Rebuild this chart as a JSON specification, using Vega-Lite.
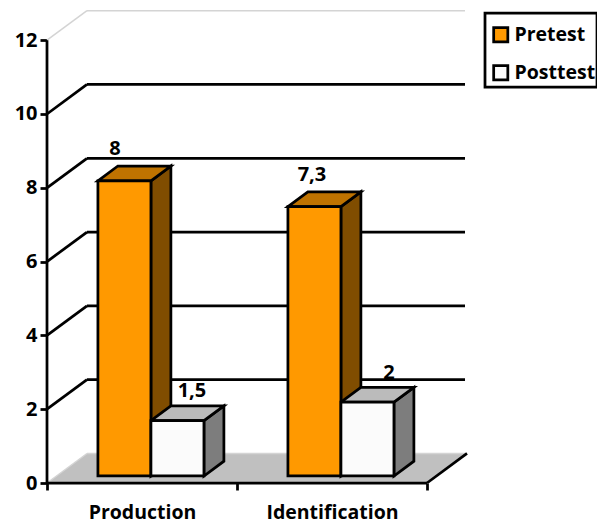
{
  "$schema": "https://vega.github.io/schema/vega-lite/v6.json",
  "autosize": {"type": "none"},
  "padding": {"left": 47, "top": 10, "right": 130, "bottom": 41},
  "width": 420,
  "height": 473,
  "background": "white",
  "view": {"stroke": null},
  "config": {
    "legend": {"strokeColor": "black", "strokeWidth": 2.75}
  },
  "resolve": {"axis": {"x": "independent", "y": "independent"}},
  "datasets": {
    "scores": [
      {"category": "Production", "series": "Pretest", "value": 8},
      {"category": "Production", "series": "Posttest", "value": 1.5},
      {"category": "Identification", "series": "Pretest", "value": 7.3},
      {"category": "Identification", "series": "Posttest", "value": 2}
    ],
    "levels": [
      {"level": 0}, {"level": 2}, {"level": 4}, {"level": 6},
      {"level": 8}, {"level": 10}, {"level": 12}
    ],
    "floor": [{"name": "floor"}]
  },
  "layer": [
    {
      "description": "Floor of the 3D box",
      "data": {"name": "floor"},
      "transform": [
        {"calculate": "[0, 1]", "as": "p"},
        {"flatten": ["p"]},
        {"calculate": "datum.p * 0.2105", "as": "x0"},
        {"calculate": "2 + datum.p * 0.2105", "as": "x1"},
        {"calculate": "datum.p * 0.8", "as": "yy"}
      ],
      "mark": {"type": "area", "orient": "horizontal", "fill": "#c0c0c0", "stroke": null},
      "encoding": {
        "x": {
          "field": "x0", "type": "quantitative",
          "scale": {"domain": [0, 2.2105], "nice": false, "zero": false},
          "axis": {
            "title": null, "grid": false, "domain": false,
            "values": [0, 0.5, 1, 1.5, 2],
            "labelExpr": "datum.value === 0.5 ? 'Production' : datum.value === 1.5 ? 'Identification' : ''",
            "tickOpacity": {"condition": {"test": "datum.value === 0.5 || datum.value === 1.5", "value": 0}, "value": 1},
            "tickColor": "black", "tickWidth": 2.75, "tickSize": 7,
            "labelFont": "Open Sans", "labelFontWeight": "bold", "labelFontSize": 19.5,
            "labelColor": "black", "labelPadding": 13, "labelAngle": 0, "labelFlush": false, "labelOverlap": false
          }
        },
        "x2": {"field": "x1"},
        "y": {
          "field": "yy", "type": "quantitative", "stack": null,
          "scale": {"domain": [0, 12.818], "nice": false, "zero": false},
          "axis": {
            "title": null, "grid": false, "domain": false,
            "values": [0, 2, 4, 6, 8, 10, 12],
            "tickColor": "black", "tickWidth": 2.75, "tickSize": 7,
            "labelFont": "Open Sans", "labelFontWeight": "bold", "labelFontSize": 20,
            "labelColor": "black", "labelPadding": 3
          }
        }
      }
    },
    {
      "description": "Diagonals on the left wall",
      "data": {"name": "levels"},
      "transform": [
        {"calculate": "datum.level + 0.8", "as": "back"},
        {"calculate": "datum.level === 0 || datum.level === 12", "as": "faint"}
      ],
      "mark": {"type": "rule"},
      "encoding": {
        "x": {"datum": 0, "type": "quantitative", "axis": null},
        "x2": {"datum": 0.2105},
        "y": {"field": "level", "type": "quantitative", "axis": null},
        "y2": {"field": "back"},
        "stroke": {"condition": {"test": "datum.faint", "value": "#d4d4d4"}, "value": "black"},
        "strokeWidth": {"condition": {"test": "datum.faint", "value": 1.5}, "value": 2.75}
      }
    },
    {
      "description": "Gridlines on the back wall",
      "data": {"name": "levels"},
      "transform": [
        {"calculate": "datum.level + 0.8", "as": "back"},
        {"calculate": "datum.level === 0 || datum.level === 12", "as": "faint"}
      ],
      "mark": {"type": "rule"},
      "encoding": {
        "x": {"datum": 0.2105, "type": "quantitative", "axis": null},
        "x2": {"datum": 2.2},
        "y": {"field": "back", "type": "quantitative", "axis": null},
        "stroke": {"condition": {"test": "datum.faint", "value": "#d4d4d4"}, "value": "black"},
        "strokeWidth": {"condition": {"test": "datum.faint", "value": 1.5}, "value": 2.75}
      }
    },
    {
      "description": "Front edge of the floor",
      "data": {"name": "floor"},
      "mark": {"type": "rule", "stroke": "black", "strokeWidth": 2.75},
      "encoding": {
        "x": {"datum": 0, "type": "quantitative", "axis": null},
        "x2": {"datum": 2},
        "y": {"datum": 0, "type": "quantitative", "axis": null}
      }
    },
    {
      "description": "Right edge of the floor",
      "data": {"name": "floor"},
      "mark": {"type": "rule", "stroke": "black", "strokeWidth": 2.75},
      "encoding": {
        "x": {"datum": 2, "type": "quantitative", "axis": null},
        "x2": {"datum": 2.2105},
        "y": {"datum": 0, "type": "quantitative", "axis": null},
        "y2": {"datum": 0.8}
      }
    },
    {
      "description": "Value axis line",
      "data": {"name": "floor"},
      "mark": {"type": "rule", "stroke": "black", "strokeWidth": 2.75},
      "encoding": {
        "x": {"datum": 0, "type": "quantitative", "axis": null},
        "y": {"datum": 0, "type": "quantitative", "axis": null},
        "y2": {"datum": 12}
      }
    },
    {
      "description": "Right-hand faces of the bars",
      "data": {"name": "scores"},
      "transform": [
        {"calculate": "(datum.category === 'Production' ? 0 : 1) + 0.268 + (datum.series === 'Pretest' ? 0 : 0.279)", "as": "left"},
        {"calculate": "[0, 1]", "as": "p"},
        {"flatten": ["p"]},
        {"calculate": "datum.left + 0.279 + datum.p * 0.105", "as": "xx"},
        {"calculate": "0.19 + datum.p * 0.4", "as": "low"},
        {"calculate": "datum.low + datum.value", "as": "high"},
        {"calculate": "datum.category + datum.series", "as": "bar"}
      ],
      "mark": {"type": "area", "stroke": "black", "strokeWidth": 2.75, "strokeJoin": "miter"},
      "encoding": {
        "detail": {"field": "bar"},
        "x": {"field": "xx", "type": "quantitative", "axis": null},
        "y": {"field": "high", "type": "quantitative", "stack": null, "axis": null},
        "y2": {"field": "low"},
        "fill": {"condition": {"test": "datum.series === 'Pretest'", "value": "#804d00"}, "value": "#7d7d7d"}
      }
    },
    {
      "description": "Top faces of the bars",
      "data": {"name": "scores"},
      "transform": [
        {"calculate": "(datum.category === 'Production' ? 0 : 1) + 0.268 + (datum.series === 'Pretest' ? 0 : 0.279)", "as": "left"},
        {"calculate": "[0, 1]", "as": "p"},
        {"flatten": ["p"]},
        {"calculate": "datum.left + datum.p * 0.105", "as": "xa"},
        {"calculate": "datum.xa + 0.279", "as": "xb"},
        {"calculate": "0.19 + datum.value + datum.p * 0.4", "as": "yy"},
        {"calculate": "datum.category + datum.series", "as": "bar"}
      ],
      "mark": {"type": "area", "orient": "horizontal", "stroke": "black", "strokeWidth": 2.75, "strokeJoin": "miter"},
      "encoding": {
        "detail": {"field": "bar"},
        "x": {"field": "xa", "type": "quantitative", "stack": null, "axis": null},
        "x2": {"field": "xb"},
        "y": {"field": "yy", "type": "quantitative", "axis": null},
        "fill": {"condition": {"test": "datum.series === 'Pretest'", "value": "#bf7300"}, "value": "#bbbbbb"}
      }
    },
    {
      "description": "Front faces of the bars, which carry the legend",
      "data": {"name": "scores"},
      "transform": [
        {"calculate": "(datum.category === 'Production' ? 0 : 1) + 0.268 + (datum.series === 'Pretest' ? 0 : 0.279)", "as": "left"},
        {"calculate": "datum.left + 0.279", "as": "right"},
        {"calculate": "0.19", "as": "base"},
        {"calculate": "datum.base + datum.value", "as": "top"}
      ],
      "mark": {"type": "rect", "stroke": "black", "strokeWidth": 2.75},
      "encoding": {
        "x": {"field": "left", "type": "quantitative", "axis": null},
        "x2": {"field": "right"},
        "y": {"field": "base", "type": "quantitative", "axis": null},
        "y2": {"field": "top"},
        "fill": {
          "field": "series", "type": "nominal",
          "scale": {"domain": ["Pretest", "Posttest"], "range": ["#ff9900", "#fbfbfb"]},
          "legend": {
            "title": " ", "titleFontSize": 1, "titlePadding": 10,
            "orient": "none", "legendX": 438, "legendY": 3,
            "symbolType": "square", "symbolSize": 200, "symbolStrokeColor": "black", "symbolStrokeWidth": 2.75,
            "symbolOffset": 5,
            "labelFont": "Open Sans", "labelFontWeight": "bold", "labelFontSize": 19.5, "labelColor": "black",
            "labelOffset": 4, "rowPadding": 12, "padding": 1
          }
        }
      }
    },
    {
      "description": "Value labels above the bars",
      "data": {"name": "scores"},
      "transform": [
        {"calculate": "datum.category === 'Production' ? 0 : 1", "as": "g"},
        {"calculate": "datum.series === 'Pretest' ? 0 : 1", "as": "s"},
        {"calculate": "datum.g + 0.268 + (17 + 77 * datum.s + 7 * datum.g) / 190", "as": "lx"},
        {"calculate": "0.19 + 0.4 + datum.value + (datum.s === 0 ? 17.25 : 14.5) / 36.9", "as": "ly"},
        {"calculate": "replace('' + datum.value, '.', ',')", "as": "shown"}
      ],
      "mark": {"type": "text", "font": "Open Sans", "fontWeight": "bold", "fontSize": 20, "color": "black", "align": "center", "baseline": "middle"},
      "encoding": {
        "x": {"field": "lx", "type": "quantitative", "axis": null},
        "y": {"field": "ly", "type": "quantitative", "axis": null},
        "text": {"field": "shown"}
      }
    }
  ]
}
